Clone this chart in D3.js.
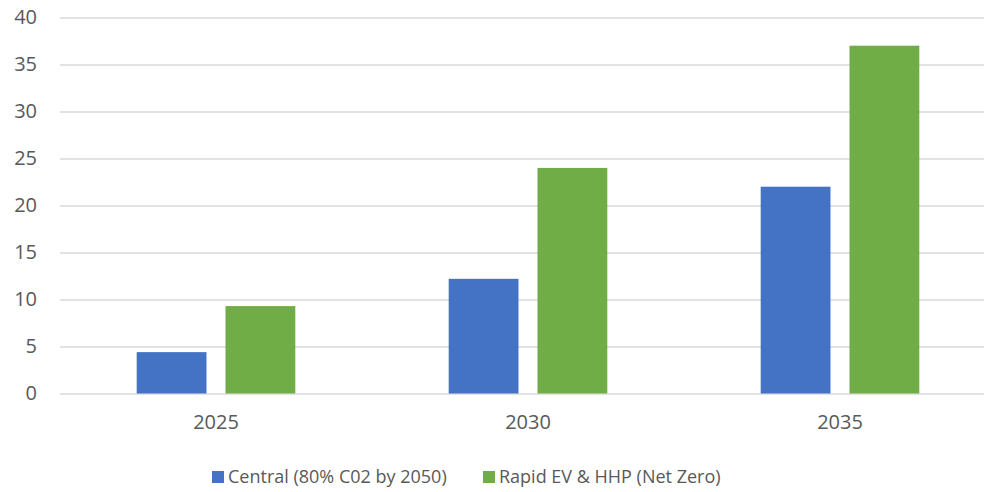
<!DOCTYPE html>
<html><head><meta charset="utf-8">
<script src="https://cdn.jsdelivr.net/npm/d3@7/dist/d3.min.js"></script>
<style>body{margin:0;background:#fff}svg{display:block}</style>
</head><body>
<svg id="c" width="984" height="492"></svg>
<script>
const categories = ["2025", "2030", "2035"];
const seriesNames = ["Central (80% C02 by 2050)", "Rapid EV & HHP (Net Zero)"];
const central = [4.4, 12.2, 22.0];
const rapid = [9.3, 24.0, 37.0];
const yTicks = [0, 5, 10, 15, 20, 25, 30, 35, 40];
const colors = ["#4472C4", "#70AD47"];

const svg = d3.select("#c");
const font = "'Open Sans', sans-serif";
const textColor = "#595959";
const x0 = d3.scaleBand().domain(categories).range([60, 996]).paddingInner(0).paddingOuter(0);
const bw = x0.bandwidth();
const x1 = d3.scaleBand().domain(seriesNames).range([bw * 0.2458, bw * 0.7542]).paddingInner(0.214).paddingOuter(0);
const y = d3.scaleLinear().domain([0, 40]).range([393.5, 17.5]);

// grid
const yAxis = d3.axisLeft(y).tickValues(yTicks).tickSize(-(996 - 60)).tickPadding(23).tickFormat(d3.format("d"));
const gy = svg.append("g").attr("transform", "translate(60,0)").call(yAxis);
gy.select(".domain").remove();
gy.selectAll(".tick line").attr("stroke", "#D9D9D9").attr("stroke-width", 1.5);
gy.selectAll(".tick text").attr("fill", textColor).style("font-family", font).style("font-size", "20px");

const data = [central, rapid];
const g = svg.append("g");
categories.forEach((c, i) => {
  seriesNames.forEach((s, j) => {
    g.append("rect")
      .attr("x", x0(c) + x1(s))
      .attr("y", y(data[j][i]))
      .attr("width", x1.bandwidth())
      .attr("height", y(0) - y(data[j][i]))
      .attr("fill", colors[j]);
  });
});

// x axis
const xAxis = d3.axisBottom(x0).tickSize(0).tickPadding(21);
const gx = svg.append("g").attr("transform", `translate(0,${y(0)})`).call(xAxis);
gx.select(".domain").remove();
gx.selectAll(".tick text").attr("fill", textColor).style("font-family", font).style("font-size", "20px");

// legend
const legendX = [212, 483];
const leg = svg.append("g");
seriesNames.forEach((s, j) => {
  leg.append("rect").attr("x", legendX[j]).attr("y", 471).attr("width", 12).attr("height", 12).attr("fill", colors[j]);
  leg.append("text").attr("x", legendX[j] + 16).attr("y", 477).attr("dy", "0.35em")
    .attr("fill", textColor).style("font-family", font).style("font-size", "18px").text(s);
});
</script>
</body></html>
